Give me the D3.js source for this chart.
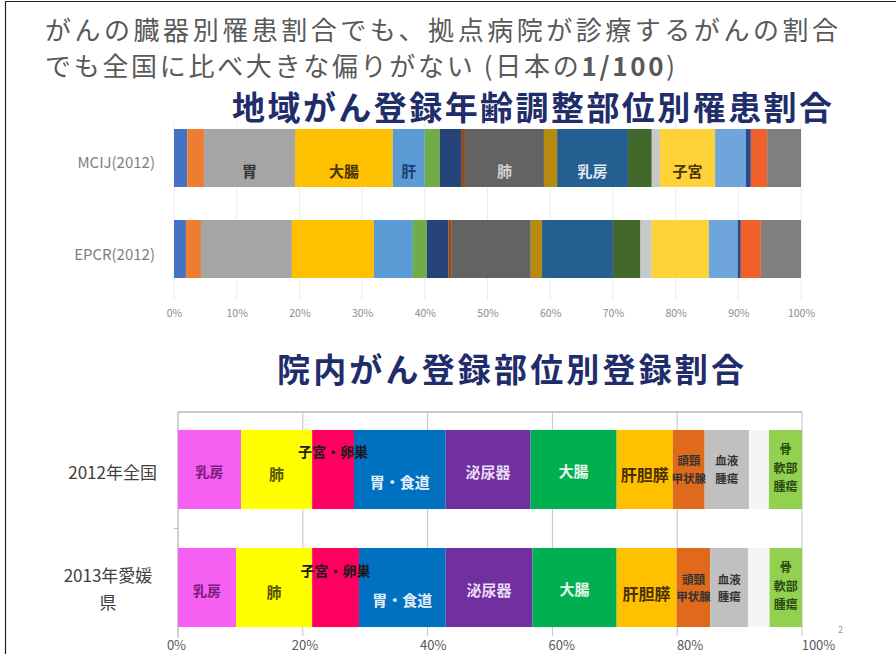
<!DOCTYPE html>
<html><head><meta charset="utf-8">
<script src="https://cdn.jsdelivr.net/npm/d3@7"></script>
<style>body{margin:0;background:#fff} svg{display:block}</style>
</head><body><svg id="c" width="896" height="654"></svg>
<script>
// ---------- DATA ----------
const topCategories = ["MCIJ(2012)", "EPCR(2012)"];
const topLabels = ["", "", "胃", "大腸", "肝", "", "", "", "肺", "", "乳房", "", "", "子宮", "", "", "", ""];
const topMCIJ = [2.1, 2.7, 14.5, 15.6, 5.1, 2.4, 3.5, 0.5, 12.6, 2.1, 11.3, 3.8, 1.3, 8.8, 4.9, 0.8, 2.6, 5.4];
const topEPCR = [1.9, 2.4, 14.5, 13.1, 6.2, 2.2, 3.5, 0.5, 12.6, 1.8, 11.3, 4.4, 1.8, 9.1, 4.6, 0.5, 3.2, 6.4];
const topTicks = [0, 10, 20, 30, 40, 50, 60, 70, 80, 90, 100];

const bottomCategories = ["2012年全国", "2013年愛媛県"];
const bottomSites = ["乳房", "肺", "子宮・卵巣", "胃・食道", "泌尿器", "大腸", "肝胆膵", "頭頸・甲状腺", "血液・腫瘍", "その他", "骨・軟部・腫瘍"];
const bottom2012 = [10.1, 11.4, 6.7, 14.7, 13.6, 13.8, 9.0, 5.1, 7.1, 3.2, 5.3];
const bottom2013 = [9.3, 12.2, 7.5, 13.9, 13.9, 13.5, 9.6, 5.4, 6.1, 3.4, 5.2];
const bottomTicks = [0, 20, 40, 60, 80, 100];

// ---------- STYLE ----------
const topColors = ["#4472c4", "#ed7d31", "#a5a5a5", "#ffc000", "#5b9bd5", "#70ad47", "#264478", "#9e480e", "#636363", "#b88a0e", "#255e91", "#43682b", "#c8c8c8", "#ffd23a", "#6ea6dc", "#2b4a8c", "#f0602a", "#7f7f7f"];
const topLabelColors = {"胃": "#333333", "大腸": "#4a3500", "肝": "#1f3f6e", "肺": "#d0d0d0", "乳房": "#dfe8f2", "子宮": "#4a3500"};
const bottomColors = ["#f55ff2", "#ffff00", "#ff0060", "#0070c0", "#7030a0", "#00b050", "#ffc000", "#df6a1c", "#c0c0c0", "#f5f5f5", "#92d050"];
const bottomLabelColors = ["#7a1a7a", "#555500", "#1a1a1a", "#e4eef8", "#eadcf4", "#e4f7e8", "#4a3000", "#333333", "#333333", "#333333", "#2a4a10"];
const FONT = "'Noto Sans CJK JP', 'Noto Sans', sans-serif";

const svg = d3.select("#c");
svg.style("font-family", FONT);

// frame
svg.append("line").attr("x1", 5.5).attr("x2", 5.5).attr("y1", 1).attr("y2", 654).attr("stroke", "#222").attr("stroke-width", 1.2);
svg.append("line").attr("x1", 5).attr("x2", 896).attr("y1", 1.5).attr("y2", 1.5).attr("stroke", "#222").attr("stroke-width", 1.2);

// headline
svg.append("text").attr("x", 45).attr("y", 28).attr("dominant-baseline", "central")
  .attr("font-size", 26).attr("fill", "#595959")
  .attr("textLength", 793).attr("lengthAdjust", "spacing")
  .text("がんの臓器別罹患割合でも、拠点病院が診療するがんの割合");
const l2 = svg.append("text").attr("x", 45).attr("y", 64).attr("dominant-baseline", "central")
  .attr("font-size", 26).attr("fill", "#595959")
  .attr("textLength", 630).attr("lengthAdjust", "spacing");
l2.append("tspan").text("でも全国に比べ大きな偏りがない (日本の");
l2.append("tspan").attr("font-weight", "bold").text("1/100");
l2.append("tspan").text(")");

// titles
svg.append("text").attr("x", 232).attr("y", 106).attr("dominant-baseline", "central")
  .attr("font-size", 33).attr("font-weight", "bold").attr("fill", "#1f2d6b")
  .attr("textLength", 600).attr("lengthAdjust", "spacing")
  .text("地域がん登録年齢調整部位別罹患割合");
svg.append("text").attr("x", 277).attr("y", 368).attr("dominant-baseline", "central")
  .attr("font-size", 33).attr("font-weight", "bold").attr("fill", "#1f2d6b")
  .attr("textLength", 467).attr("lengthAdjust", "spacing")
  .text("院内がん登録部位別登録割合");

// ---------- TOP CHART ----------
const xT = d3.scaleLinear().domain([0, 100]).range([174, 801]);
const yT = d3.scaleBand().domain(topCategories).range([96, 311]).paddingInner(0.3626).paddingOuter(0.3626);

const gT = svg.append("g");
gT.selectAll("line.grid").data(topTicks).join("line")
  .attr("x1", d => xT(d)).attr("x2", d => xT(d)).attr("y1", 122).attr("y2", 300)
  .attr("stroke", "#ececec").attr("stroke-width", 1);

const topRows = [topMCIJ, topEPCR].map((vals, ri) => {
  let acc = 0;
  return vals.map((v, i) => { const s = {cat: topCategories[ri], i, x0: acc, x1: acc + v, label: topLabels[i]}; acc += v; return s; });
});
topRows.forEach(row => {
  gT.selectAll(null).data(row).join("rect")
    .attr("x", d => xT(d.x0)).attr("width", d => xT(d.x1) - xT(d.x0))
    .attr("y", d => yT(d.cat)).attr("height", yT.bandwidth())
    .attr("fill", d => topColors[d.i]);
});
gT.selectAll("text.seg").data(topRows[0].filter(d => d.label)).join("text")
  .attr("x", d => xT((d.x0 + d.x1) / 2)).attr("y", d => yT(d.cat) + yT.bandwidth() / 2 + 13)
  .attr("text-anchor", "middle").attr("dominant-baseline", "central")
  .attr("font-size", 15).attr("font-weight", "bold")
  .attr("fill", d => topLabelColors[d.label]).text(d => d.label);

gT.selectAll("text.cat").data(topCategories).join("text")
  .attr("x", 155).attr("y", d => yT(d) + yT.bandwidth() / 2 + 4)
  .attr("text-anchor", "end").attr("dominant-baseline", "central")
  .attr("font-size", 15).attr("fill", "#7f7f7f").text(d => d);

const axT = svg.append("g").attr("transform", "translate(0,307)")
  .call(d3.axisBottom(xT).tickValues(topTicks).tickFormat(d => d + "%").tickSize(0));
axT.select(".domain").remove();
axT.selectAll("text").attr("font-family", FONT).attr("font-size", 10.5).attr("fill", "#8c8c8c");

// ---------- BOTTOM CHART ----------
const xB = d3.scaleLinear().domain([0, 100]).range([178, 802]);
const xBLabel = d3.scaleLinear().domain([0, 100]).range([176, 818]);
const yB = d3.scaleBand().domain(bottomCategories).range([412, 645]).paddingInner(0.33).paddingOuter(0.152);

const gB = svg.append("g");
gB.selectAll("line.grid").data(bottomTicks.slice(1)).join("line")
  .attr("x1", d => xB(d)).attr("x2", d => xB(d)).attr("y1", 412).attr("y2", 636)
  .attr("stroke", "#c4c4c4").attr("stroke-width", 1);
gB.append("line").attr("x1", xB(0)).attr("x2", xB(100)).attr("y1", 412).attr("y2", 412)
  .attr("stroke", "#b8b8b8").attr("stroke-width", 1.3);
gB.append("line").attr("x1", xB(0)).attr("x2", xB(0)).attr("y1", 412).attr("y2", 638)
  .attr("stroke", "#b8b8b8").attr("stroke-width", 1.3);
const midY = (yB(bottomCategories[0]) + yB.bandwidth() + yB(bottomCategories[1])) / 2;
gB.append("line").attr("x1", xB(0) - 4).attr("x2", xB(0)).attr("y1", midY).attr("y2", midY).attr("stroke", "#b8b8b8");

const bottomRows = [bottom2012, bottom2013].map((vals, ri) => {
  let acc = 0;
  return vals.map((v, i) => { const s = {cat: bottomCategories[ri], i, x0: acc, x1: acc + v}; acc += v; return s; });
});
const labelSpec = [
  {lines: ["乳房"], fs: 14, dy: 2},
  {lines: ["肺"], fs: 15, dy: 4},
  {lines: ["子宮・卵巣"], fs: 14, dy: -18},
  {lines: ["胃・食道"], fs: 15, dy: 12},
  {lines: ["泌尿器"], fs: 15, dy: 2},
  {lines: ["大腸"], fs: 15, dy: 1},
  {lines: ["肝胆膵"], fs: 16, dy: 5},
  {lines: ["頭頸", "甲状腺"], fs: 11.5, dy: -9},
  {lines: ["血液", "腫瘍"], fs: 11.5, dy: -9},
  {lines: [], fs: 11, dy: 0},
  {lines: ["骨", "軟部", "腫瘍"], fs: 12, dy: -21}
];
bottomRows.forEach(row => {
  gB.selectAll(null).data(row).join("rect")
    .attr("x", d => xB(d.x0)).attr("width", d => xB(d.x1) - xB(d.x0))
    .attr("y", d => yB(d.cat)).attr("height", yB.bandwidth())
    .attr("fill", d => bottomColors[d.i]);
});
bottomRows.forEach(row => {
  row.forEach(d => {
    const sp = labelSpec[d.i];
    const cx = xB((d.x0 + d.x1) / 2);
    const cy = yB(d.cat) + yB.bandwidth() / 2 + sp.dy;
    const lh = sp.fs * 1.55;
    sp.lines.forEach((ln, k) => {
      gB.append("text").attr("x", cx).attr("y", cy + k * lh)
        .attr("text-anchor", "middle").attr("dominant-baseline", "central")
        .attr("font-size", sp.fs).attr("font-weight", "bold")
        .attr("fill", bottomLabelColors[d.i]).text(ln);
    });
  });
});

bottomCategories.forEach(c => {
  const cy = yB(c) + yB.bandwidth() / 2;
  const t = gB.append("text").attr("font-size", 17).attr("fill", "#404040").attr("dominant-baseline", "central");
  t.text(c);
  const w = t.node().getComputedTextLength();
  if (w > 100) {
    t.text(null).attr("text-anchor", "middle");
    const a = c.slice(0, c.length - 1), b = c.slice(c.length - 1);
    t.append("tspan").attr("x", 108).attr("y", cy - 14).text(a);
    t.append("tspan").attr("x", 108).attr("y", cy + 13).text(b);
  } else {
    t.attr("text-anchor", "end").attr("x", 157).attr("y", cy + 2);
  }
});

const axB = svg.append("g").attr("transform", "translate(0,638)")
  .call(d3.axisBottom(xBLabel).tickValues(bottomTicks).tickFormat(d => d + "%").tickSize(0));
axB.select(".domain").remove();
axB.selectAll("text").attr("font-family", FONT).attr("font-size", 13).attr("fill", "#595959");

svg.append("text").attr("x", 838).attr("y", 633).attr("font-size", 9).attr("fill", "#999").text("2");
</script>
</body></html>
